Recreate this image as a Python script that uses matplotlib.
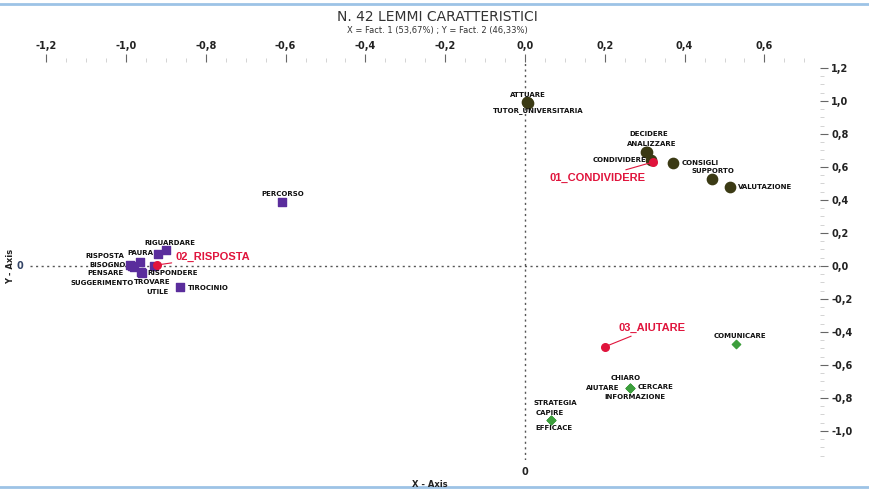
import numpy as np
import matplotlib.pyplot as plt
from matplotlib.ticker import FuncFormatter, MultipleLocator
from matplotlib.lines import Line2D

# DATA
title = "N. 42 LEMMI CARATTERISTICI"
subtitle = "X = Fact. 1 (53,67%) ; Y = Fact. 2 (46,33%)"

g1_names = ["ATTUARE", "TUTOR_UNIVERSITARIA", "DECIDERE", "ANALIZZARE", "CONDIVIDERE",
            "CONSIGLI", "SUPPORTO", "VALUTAZIONE"]
g1_x = [0.005, 0.008, 0.303, 0.305, 0.316, 0.371, 0.469, 0.514]
g1_y = [0.994, 0.990, 0.690, 0.688, 0.640, 0.624, 0.527, 0.479]

g2_names = ["PERCORSO", "RIGUARDARE", "PAURA", "RISPOSTA", "BISOGNO", "PENSARE",
            "SUGGERIMENTO", "RISPONDERE", "TROVARE", "UTILE", "TIROCINIO"]
g2_x = [-0.609, -0.900, -0.920, -0.965, -0.990, -0.985, -0.980, -0.930, -0.962, -0.960, -0.865]
g2_y = [0.388, 0.097, 0.070, 0.025, 0.005, 0.000, -0.005, 0.000, -0.036, -0.040, -0.127]

g3_names = ["COMUNICARE", "CHIARO", "AIUTARE", "CERCARE", "INFORMAZIONE",
            "STRATEGIA", "CAPIRE", "EFFICACE"]
g3_x = [0.529, 0.263, 0.262, 0.264, 0.263, 0.065, 0.064, 0.066]
g3_y = [-0.473, -0.740, -0.741, -0.739, -0.742, -0.933, -0.932, -0.934]

cent_names = ["01_CONDIVIDERE", "02_RISPOSTA", "03_AIUTARE"]
cent_x = [0.321, -0.922, 0.200]
cent_y = [0.630, 0.006, -0.490]

# label offsets in pixels (dx, dy), layout only
offsets = {
    "ATTUARE": (1, 7), "TUTOR_UNIVERSITARIA": (10, -8), "DECIDERE": (3, 18),
    "ANALIZZARE": (5, 8), "CONDIVIDERE": (-32, 0), "CONSIGLI": (27, 0),
    "SUPPORTO": (1, 8), "VALUTAZIONE": (35, 0),
    "PERCORSO": (1, 8), "RIGUARDARE": (4, 7), "PAURA": (-18, 1), "RISPOSTA": (-35, 6),
    "BISOGNO": (-22, 0), "PENSARE": (-26, -7), "SUGGERIMENTO": (-32, -16),
    "RISPONDERE": (19, -7), "TROVARE": (11, -10), "UTILE": (16, -19), "TIROCINIO": (28, -1),
    "COMUNICARE": (4, 8), "CHIARO": (-4, 10), "AIUTARE": (-27, 0), "CERCARE": (25, 1),
    "INFORMAZIONE": (5, -9), "STRATEGIA": (4, 17), "CAPIRE": (-1, 7), "EFFICACE": (3, -8),
    "01_CONDIVIDERE": (-56, -16), "02_RISPOSTA": (56, 8), "03_AIUTARE": (47, 19),
}

fig = plt.figure(figsize=(8.69, 4.9), dpi=100)
ax = fig.add_axes([30 / 869, 30 / 490, 790 / 869, 398 / 490])
ax.set_xlim(-1.2406, 0.7393)
ax.set_ylim(-1.176, 1.236)
for s in ax.spines.values():
    s.set_visible(False)

ax.axvline(0, color="#555555", lw=1, ls=(0, (1.5, 2.5)), zorder=1)
ax.axhline(0, color="#555555", lw=1, ls=(0, (1.5, 2.5)), zorder=1)

fmt = FuncFormatter(lambda v, p: ("%.1f" % v).replace(".", ",").replace("-0,0", "0,0"))
ax.xaxis.tick_top()
ax.yaxis.tick_right()
ax.set_xticks(np.arange(-1.2, 0.61, 0.2))
ax.set_yticks(np.arange(-1.0, 1.21, 0.2))
ax.xaxis.set_minor_locator(MultipleLocator(0.05))
ax.yaxis.set_minor_locator(MultipleLocator(0.05))
ax.xaxis.set_major_formatter(fmt)
ax.yaxis.set_major_formatter(fmt)
ax.tick_params(which="major", length=6, width=0.8, color="#666666", labelsize=7, pad=2)
ax.tick_params(which="minor", length=3, width=0.6, color="#cccccc")
for lab in ax.get_xticklabels() + ax.get_yticklabels():
    lab.set_fontweight("bold")
    lab.set_color("#222222")

lab_kw = dict(textcoords="offset pixels", ha="center", va="center",
              fontsize=5, fontweight="bold", color="#111111", zorder=5)

ax.scatter(g1_x, g1_y, s=55, marker="o", color="#3b3a14", zorder=3)
ax.scatter(g2_x, g2_y, s=40, marker="s", color="#5a2d9c", zorder=3)
ax.scatter(g3_x, g3_y, s=18, marker="D", color="#3c9e3c", zorder=3)

for names, xs, ys in [(g1_names, g1_x, g1_y), (g2_names, g2_x, g2_y), (g3_names, g3_x, g3_y)]:
    for n, x, y in zip(names, xs, ys):
        ax.annotate(n, (x, y), xytext=offsets[n], **lab_kw)

red = "#e0143c"
ax.scatter(cent_x, cent_y, s=30, marker="o", color=red, zorder=4)
for n, x, y in zip(cent_names, cent_x, cent_y):
    ax.annotate(n, (x, y), xytext=offsets[n], textcoords="offset pixels",
                ha="center", va="center", fontsize=8, fontweight="bold", color=red,
                family=["Liberation Sans", "DejaVu Sans"], zorder=6,
                arrowprops=dict(arrowstyle="-", color=red, lw=0.8, shrinkA=1, shrinkB=2))

# axis texts
fig.text(0.503, 0.965, title, ha="center", va="center", fontsize=10, color="#333333")
fig.text(0.503, 0.937, subtitle, ha="center", va="center", fontsize=6, color="#333333")
fig.text(0.012, (490 - 266) / 490, "Y - Axis", rotation=90, ha="center",
         va="center", fontsize=6, fontweight="bold", color="#222222")
fig.text(430 / 869, 1 - 484 / 490, "X - Axis", ha="center", va="center",
         fontsize=6, fontweight="bold", color="#222222")
fig.text(20 / 869, 1 - 266 / 490, "0", ha="center", va="center",
         fontsize=7, fontweight="bold", color="#334466")
fig.text(525 / 869, 1 - 472 / 490, "0", ha="center", va="center",
         fontsize=7, fontweight="bold", color="#222222")

# blue frame lines
for yy in (1 - 4 / 490, 1 - 487 / 490):
    fig.add_artist(Line2D([0, 1], [yy, yy], transform=fig.transFigure,
                          color="#9dc3e6", lw=2))

plt.savefig("out.png", dpi=100)
